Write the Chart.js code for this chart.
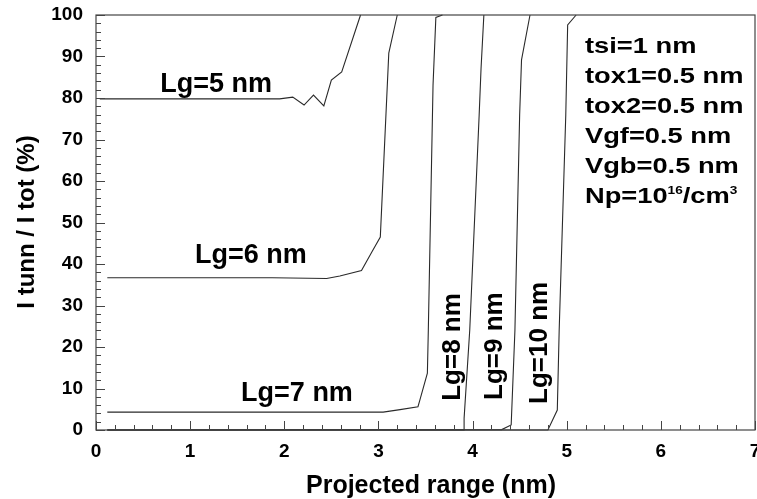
<!DOCTYPE html>
<html>
<head>
<meta charset="utf-8">
<script src="https://cdn.jsdelivr.net/npm/chart.js@4"></script>
<style>
  html, body { margin: 0; padding: 0; background: #fff; }
  #wrap { width: 757px; height: 499px; }
</style>
</head>
<body>
<div id="wrap"><canvas id="tunnChart" width="757" height="499"></canvas></div>
<script>
// projected range (nm) vs tunnelling fraction (%) for each gate length
const lg5X = [0.04, 1.95, 2.09, 2.21, 2.31, 2.42, 2.50, 2.61, 2.81];
const lg5Y = [79.8, 79.8, 80.2, 78.3, 80.7, 78.1, 84.3, 86.3, 100];

const lg6X = [0.12, 1.87, 2.45, 2.59, 2.82, 2.93, 3.02, 3.11, 3.20];
const lg6Y = [36.7, 36.7, 36.5, 37.1, 38.4, 42.9, 46.5, 90.8, 100];

const lg7X = [0.12, 3.05, 3.23, 3.42, 3.44, 3.52, 3.53, 3.58, 3.61, 3.68];
const lg7Y = [4.3, 4.3, 4.9, 5.6, 7.2, 13.7, 24.1, 83.1, 99.4, 100];

const lg8X = [0.12, 3.91, 3.91, 3.97, 4.07, 4.09, 4.12];
const lg8Y = [0, 0, 2.8, 24.1, 75.9, 87.1, 100];

const lg9X = [0.12, 4.31, 4.41, 4.45, 4.50, 4.52, 4.61];
const lg9Y = [0, 0.1, 1.2, 24.1, 75.9, 89.2, 100];

const lg10X = [0.12, 4.80, 4.90, 4.92, 4.99, 5.01, 5.10];
const lg10Y = [0, 0, 4.8, 24.1, 75.9, 97.6, 100];

const curveLabels = ['Lg=5 nm', 'Lg=6 nm', 'Lg=7 nm', 'Lg=8 nm', 'Lg=9 nm', 'Lg=10 nm'];
// label anchors in data units (centre x / baseline y, or baseline x / centre y when upright)
const labelX = [1.275, 1.646, 2.135, 3.867, 4.313, 4.79];
const labelY = [81.4, 40.2, 7.0, 20.0, 20.2, 21.0];
const labelRot = [false, false, false, true, true, true];

const paramLines = ['tsi=1 nm', 'tox1=0.5 nm', 'tox2=0.5 nm', 'Vgf=0.5 nm', 'Vgb=0.5 nm'];

const xTicks = [0, 1, 2, 3, 4, 5, 6, 7];
const yTicks = [0, 10, 20, 30, 40, 50, 60, 70, 80, 90, 100];

const seriesX = [lg5X, lg6X, lg7X, lg8X, lg9X, lg10X];
const seriesY = [lg5Y, lg6Y, lg7Y, lg8Y, lg9Y, lg10Y];

const FAM = '"Liberation Sans", Arial, sans-serif';

const datasets = seriesX.map((xs, i) => ({
  label: curveLabels[i],
  data: xs.map((x, j) => ({ x: x, y: seriesY[i][j] })),
  borderColor: '#2a2a2a',
  borderWidth: 1.1,
  pointRadius: 0,
  tension: 0,
  clip: false
}));

// inward ticks, frame and the text on the plot
const decorations = {
  id: 'decorations',
  afterDraw(chart) {
    const c = chart.ctx;
    const xs = chart.scales.x, ys = chart.scales.y;
    const area = chart.chartArea;
    c.save();
    c.strokeStyle = '#444';
    c.lineWidth = 1.2;
    c.strokeRect(area.left, area.top, area.right - area.left, area.bottom - area.top);

    c.lineWidth = 1;
    for (let v = 0; v <= 100.01; v += 2) {
      const p = Math.round(ys.getPixelForValue(v)) + 0.5;
      const len = (Math.round(v) % 10 === 0) ? 9 : 5;
      c.beginPath(); c.moveTo(area.left, p); c.lineTo(area.left + len, p); c.stroke();
    }
    for (let k = 0; k <= 35; k++) {
      const p = Math.round(xs.getPixelForValue(k * 0.2)) + 0.5;
      const len = (k % 5 === 0) ? 9 : 5;
      c.beginPath(); c.moveTo(p, area.bottom); c.lineTo(p, area.bottom - len); c.stroke();
    }

    c.fillStyle = '#000';
    c.textBaseline = 'alphabetic';
    c.textAlign = 'center';
    curveLabels.forEach((t, i) => {
      const px = xs.getPixelForValue(labelX[i]);
      const py = ys.getPixelForValue(labelY[i]);
      c.save();
      c.translate(px, py);
      if (labelRot[i]) {
        c.rotate(-Math.PI / 2);
        c.font = 'bold 26px ' + FAM;
      } else {
        c.font = 'bold 27px ' + FAM;
      }
      c.fillText(t, 0, 0);
      c.restore();
    });

    // parameter block (a little wider than the font)
    const bx = xs.getPixelForValue(5.194);
    const by0 = ys.getPixelForValue(90.8);
    c.save();
    c.translate(bx, by0);
    c.scale(1.24, 1);
    c.textAlign = 'left';
    c.font = 'bold 22px ' + FAM;
    let by = 0;
    paramLines.forEach(t => { c.fillText(t, 0, by); by += 30; });
    let x0 = 0;
    c.fillText('Np=10', x0, by); x0 += c.measureText('Np=10').width;
    c.font = 'bold 11px ' + FAM;
    c.fillText('16', x0, by - 9); x0 += c.measureText('16').width;
    c.font = 'bold 22px ' + FAM;
    c.fillText('/cm', x0, by); x0 += c.measureText('/cm').width;
    c.font = 'bold 11px ' + FAM;
    c.fillText('3', x0, by - 9);
    c.restore();

    // axis titles
    c.font = 'bold 25px ' + FAM;
    c.textAlign = 'center';
    c.fillText('Projected range (nm)', 431, 493);
    c.save();
    c.translate(27, 222);
    c.rotate(-Math.PI / 2);
    c.textBaseline = 'middle';
    c.font = 'bold 24px ' + FAM;
    c.fillText('I tunn / I tot (%)', 0, 0);
    c.restore();
    c.restore();
  }
};

const config = {
  type: 'line',
  data: { datasets: datasets },
  options: {
    responsive: false,
    animation: false,
    events: [],
    layout: { padding: { top: 15, right: 2, left: 0, bottom: 0 } },
    plugins: { legend: { display: false }, tooltip: { enabled: false } },
    scales: {
      x: {
        type: 'linear',
        min: 0, max: 7,
        grid: { display: false, drawTicks: false },
        border: { display: false },
        afterBuildTicks: s => { s.ticks = xTicks.map(v => ({ value: v })); },
        afterFit: s => { s.height = 69; s.paddingLeft = 0; s.paddingRight = 0; },
        ticks: { color: '#000', padding: 10, font: { family: FAM, size: 19, weight: 'bold' } }
      },
      y: {
        type: 'linear',
        min: 0, max: 100,
        grid: { display: false, drawTicks: false },
        border: { display: false },
        afterBuildTicks: s => { s.ticks = yTicks.map(v => ({ value: v })); },
        afterFit: s => { s.width = 96; s.paddingTop = 0; s.paddingBottom = 0; },
        ticks: { color: '#000', padding: 13, font: { family: FAM, size: 19, weight: 'bold' } }
      }
    }
  },
  plugins: [decorations]
};

let tunnChart;
document.addEventListener('DOMContentLoaded', () => {
  const ctx = document.getElementById('tunnChart').getContext('2d');
  tunnChart = new Chart(ctx, config);
});
</script>
</body>
</html>
